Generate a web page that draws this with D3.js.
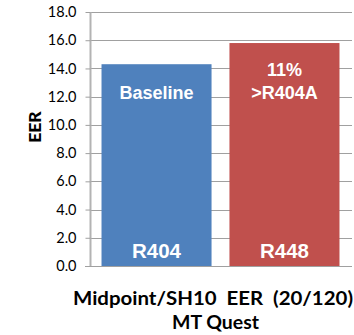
<!DOCTYPE html>
<html><head><meta charset="utf-8">
<script src="https://cdn.jsdelivr.net/npm/d3@7"></script>
<style>body{margin:0;background:#fff}svg{display:block}</style>
</head><body><svg id="c" width="354" height="335"></svg>
<script>
const categories = ["R404", "R448"];
const values = [14.3, 15.8];
const colors = ["#4f81bd", "#c0504d"];
const innerLabels = [["Baseline"], ["11%", ">R404A"]];
const yTicks = [0, 2, 4, 6, 8, 10, 12, 14, 16, 18];
const xTitle = ["Midpoint/SH10  EER  (20/120)", "MT Quest"];
const yTitle = "EER";

const svg = d3.select("#c");
const y = d3.scaleLinear().domain([0, 18]).range([266, 12]);
const x = d3.scaleBand().domain(categories).range([90, 351]).paddingInner(0.14).paddingOuter(0.09);

// gridlines
svg.append("g").selectAll("line").data(yTicks.slice(1)).join("line")
  .attr("x1", 90).attr("x2", 352).attr("y1", d => Math.round(y(d)) + 0.5).attr("y2", d => Math.round(y(d)) + 0.5)
  .attr("stroke", "#a0a0a0").attr("stroke-width", 1);

// bars
svg.append("g").selectAll("rect").data(categories).join("rect")
  .attr("x", d => x(d)).attr("width", x.bandwidth())
  .attr("y", (d, i) => y(values[i])).attr("height", (d, i) => y(0) - y(values[i]))
  .attr("fill", (d, i) => colors[i]);

// y axis
const yAxis = d3.axisLeft(y).tickValues(yTicks).tickFormat(d3.format(".1f")).tickSize(5).tickPadding(9);
const ga = svg.append("g").attr("transform", "translate(90.5,0)").call(yAxis);
ga.select(".domain").attr("stroke", "#b3b3b3").attr("stroke-width", 2).attr("d", `M0,${y(18)}V${y(0)}`);
ga.selectAll(".tick line").attr("stroke", "#a0a0a0");
ga.selectAll(".tick text").attr("font-family", "Lato").attr("font-size", 14.5).attr("fill", "#000");
// baseline
svg.append("line").attr("x1", 85).attr("x2", 352).attr("y1", y(0) + 0.5).attr("y2", y(0) + 0.5).attr("stroke", "#a0a0a0");

// inner labels
categories.forEach((c, i) => {
  const cx = x(c) + x.bandwidth() / 2;
  const lines = innerLabels[i];
  const baseY = i === 0 ? [99] : [76, 99];
  lines.forEach((t, j) => {
    svg.append("text").attr("x", cx).attr("y", baseY[j])
      .attr("text-anchor", "middle").attr("font-family", "Liberation Sans, Arial").attr("font-weight", "bold")
      .attr("font-size", 18).attr("fill", "#fff").text(t);
  });
  svg.append("text").attr("x", cx).attr("y", 257.5)
    .attr("text-anchor", "middle").attr("font-family", "Liberation Sans, Arial").attr("font-weight", "bold")
    .attr("font-size", 20.5).attr("fill", "#fff").text(c);
});

// titles
const xtSpecs = [{cx: 213, by: 305, w: 280}, {cx: 215.5, by: 329, w: 87}];
xTitle.forEach((t, j) => {
  svg.append("text").attr("x", xtSpecs[j].cx).attr("y", xtSpecs[j].by)
    .attr("text-anchor", "middle").attr("font-family", "Lato").attr("font-weight", "bold")
    .attr("font-size", 18).attr("fill", "#000").style("white-space", "pre")
    .attr("textLength", xtSpecs[j].w).attr("lengthAdjust", "spacingAndGlyphs").text(t);
});
svg.append("text").attr("transform", "translate(35,127) rotate(-90)").attr("dy", "0.35em")
  .attr("text-anchor", "middle").attr("font-family", "Lato").attr("font-weight", "900")
  .attr("font-size", 17.5).attr("fill", "#000").text(yTitle);
</script></body></html>
